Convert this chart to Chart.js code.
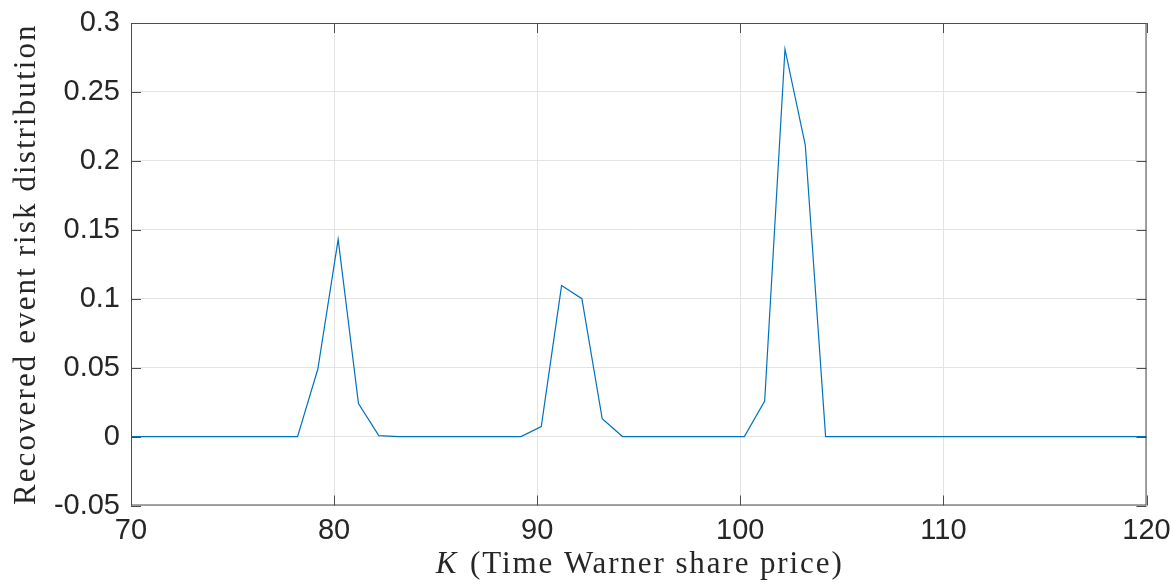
<!DOCTYPE html>
<html><head><meta charset="utf-8">
<style>html,body{margin:0;padding:0;background:#fff}#wrap{width:1173px;height:586px}</style>
<script src="https://cdn.jsdelivr.net/npm/chart.js@4"></script>
</head><body><div id="wrap"><canvas id="c" width="1173" height="586"></canvas></div>
<script>
// ---- data ----
const strikePrices = [69.2, 70.2, 71.2, 72.2, 73.2, 74.2, 75.2, 76.2, 77.2, 78.2,
  79.2, 80.2, 81.2, 82.2, 83.2, 84.2, 85.2, 86.2, 87.2, 88.2,
  89.2, 90.2, 91.2, 92.2, 93.2, 94.2, 95.2, 96.2, 97.2, 98.2,
  99.2, 100.2, 101.2, 102.2, 103.2, 104.2, 105.2, 106.2, 107.2, 108.2,
  109.2, 110.2, 111.2, 112.2, 113.2, 114.2, 115.2, 116.2, 117.2, 118.2,
  119.2, 120.2];
const riskValues = [0, 0, 0, 0, 0, 0, 0, 0, 0, 0,
  0.049, 0.143, 0.024, 0.0007, 0, 0, 0, 0, 0, 0,
  0, 0.0073, 0.1095, 0.1, 0.013, 0, 0, 0, 0, 0,
  0, 0, 0.0258, 0.281, 0.2115, 0, 0, 0, 0, 0,
  0, 0, 0, 0, 0, 0, 0, 0, 0, 0,
  0, 0];
const xTickValues = [70, 80, 90, 100, 110, 120];
const xTickLabels = ['70', '80', '90', '100', '110', '120'];
const yTickValues = [-0.05, 0, 0.05, 0.1, 0.15, 0.2, 0.25, 0.3];
const yTickLabels = ['-0.05', '0', '0.05', '0.1', '0.15', '0.2', '0.25', '0.3'];
const xTitleItalic = 'K';
const xTitleRest = ' (Time Warner share price)';
const yTitle = 'Recovered event risk distribution';

const tickFont = { family: '"Liberation Sans", Arial, sans-serif', size: 29 };
const titleFontSize = 31;
const titleFamily = '"Liberation Serif", "Times New Roman", serif';

const zeroPad = s => { s.paddingLeft = 0; s.paddingRight = 0; s.paddingTop = 0; s.paddingBottom = 0; };

const framePlugin = {
  id: 'frame',
  afterDraw(chart) {
    const { ctx, chartArea: a, scales: { x, y } } = chart;
    ctx.save();
    ctx.strokeStyle = '#4d4d4d';
    ctx.lineWidth = 1;
    ctx.strokeRect(a.left + 0.5, a.top + 0.5, a.right - a.left - 1, a.bottom - a.top - 1);
    const tl = 10;
    ctx.beginPath();
    xTickValues.forEach(v => {
      const px = Math.round(x.getPixelForValue(v)) + 0.5;
      ctx.moveTo(px, a.bottom); ctx.lineTo(px, a.bottom - tl);
      ctx.moveTo(px, a.top); ctx.lineTo(px, a.top + tl);
    });
    yTickValues.forEach(v => {
      const py = Math.round(y.getPixelForValue(v)) + 0.5;
      ctx.moveTo(a.left, py); ctx.lineTo(a.left + tl, py);
      ctx.moveTo(a.right, py); ctx.lineTo(a.right - tl, py);
    });
    ctx.stroke();

    // titles
    ctx.fillStyle = '#262626';
    ctx.textBaseline = 'alphabetic';
    ctx.letterSpacing = '1.9px';
    ctx.font = 'italic ' + titleFontSize + 'px ' + titleFamily;
    const wK = ctx.measureText(xTitleItalic).width;
    ctx.font = titleFontSize + 'px ' + titleFamily;
    const wR = ctx.measureText(xTitleRest).width;
    const cx = (a.left + a.right) / 2;
    const startX = cx - (wK + wR) / 2;
    ctx.font = 'italic ' + titleFontSize + 'px ' + titleFamily;
    ctx.textAlign = 'left';
    ctx.fillText(xTitleItalic, startX, 573);
    ctx.font = titleFontSize + 'px ' + titleFamily;
    ctx.fillText(xTitleRest, startX + wK + 2, 573);

    ctx.letterSpacing = '2.1px';
    ctx.translate(35, (a.top + a.bottom) / 2);
    ctx.rotate(-Math.PI / 2);
    ctx.textAlign = 'center';
    ctx.fillText(yTitle, 0, 0);
    ctx.restore();
  }
};

new Chart(document.getElementById('c'), {
  type: 'line',
  data: {
    datasets: [{
      data: strikePrices.map((k, i) => ({ x: k, y: riskValues[i] })),
      borderColor: '#0072BD',
      borderWidth: 1.2,
      pointRadius: 0,
      tension: 0,
      fill: false
    }]
  },
  options: {
    responsive: false,
    animation: false,
    devicePixelRatio: 1,
    layout: { padding: { top: 23, right: 26.5, left: 0, bottom: 0 } },
    plugins: { legend: { display: false }, tooltip: { enabled: false } },
    scales: {
      x: {
        type: 'linear', min: 70, max: 120,
        afterBuildTicks: s => { s.ticks = xTickValues.map(v => ({ value: v })); },
        afterFit: s => { s.height = 80.5; zeroPad(s); },
        grid: { color: '#e3e3e3', drawTicks: false, lineWidth: 1 },
        border: { display: false },
        ticks: {
          font: tickFont, color: '#262626', padding: 8, maxRotation: 0, autoSkip: false,
          callback: (v, i) => xTickLabels[i]
        }
      },
      y: {
        type: 'linear', min: -0.05, max: 0.3,
        afterBuildTicks: s => { s.ticks = yTickValues.map(v => ({ value: v })); },
        afterFit: s => { s.width = 131; zeroPad(s); },
        grid: { color: '#e3e3e3', drawTicks: false, lineWidth: 1 },
        border: { display: false },
        ticks: {
          font: tickFont, color: '#262626', padding: 11, autoSkip: false,
          callback: (v, i) => yTickLabels[i]
        }
      }
    }
  },
  plugins: [framePlugin]
});
</script></body></html>
